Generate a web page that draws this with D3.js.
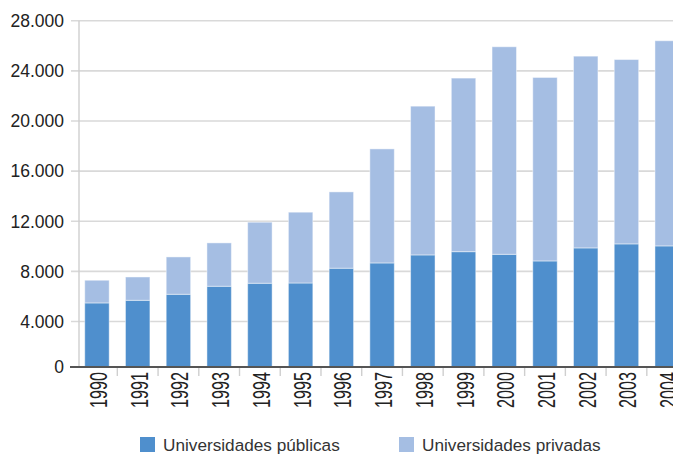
<!DOCTYPE html>
<html>
<head>
<meta charset="utf-8">
<script src="https://cdn.jsdelivr.net/npm/d3@7"></script>
<style>
  html, body { margin: 0; padding: 0; background: #fff; }
  svg { display: block; font-family: "Liberation Sans", Arial, Helvetica, sans-serif; }
</style>
</head>
<body>
<svg id="chart" width="673" height="454"></svg>
<script>
// Enrolment by type of university, 1990–2004
const years = ["1990","1991","1992","1993","1994","1995","1996","1997","1998","1999","2000","2001","2002","2003","2004"];
const publicas = [5480, 5690, 6170, 6810, 7050, 7070, 8250, 8670, 9310, 9570, 9360, 8830, 9870, 10190, 10030];
const privadas = [1810, 1860, 2980, 3460, 4870, 5650, 6090, 9100, 11870, 13850, 16560, 14640, 15300, 14710, 16370];
const yTicks = [0, 4000, 8000, 12000, 16000, 20000, 24000, 28000];
const seriesNames = ["Universidades públicas", "Universidades privadas"];
const colors = ["#4f8fcd", "#a5bee3"];

const W = 673, H = 454;
const axisX = 79;       // vertical axis position
const baseY = 367;      // horizontal axis line
const svg = d3.select("#chart");

const rows = years.map((y, i) => ({ year: y, publicas: publicas[i], privadas: privadas[i] }));
const stack = d3.stack().keys(["publicas", "privadas"])(rows);

const x = d3.scaleBand()
  .domain(years)
  .range([76.6, 76.6 + 40.73 * years.length])
  .paddingInner(0.4)
  .paddingOuter(0.2);

const y = d3.scaleLinear().domain([0, 28000]).range([371.6, 20.7]);

const fmt = v => d3.format(",")(v).replace(/,/g, ".");

// gridlines with short ticks left of the axis
svg.append("g")
  .selectAll("line")
  .data(yTicks.filter(d => d > 0))
  .join("line")
  .attr("x1", axisX - 8)
  .attr("x2", W)
  .attr("y1", d => y(d))
  .attr("y2", d => y(d))
  .attr("stroke", "#d9d9d9")
  .attr("stroke-width", 1.6);

// vertical axis line
svg.append("line")
  .attr("x1", axisX).attr("x2", axisX)
  .attr("y1", y(28000)).attr("y2", baseY)
  .attr("stroke", "#cfcfcf")
  .attr("stroke-width", 1.4);

// y tick labels
svg.append("g")
  .selectAll("text")
  .data(yTicks)
  .join("text")
  .attr("x", 64)
  .attr("y", d => d === 0 ? baseY : y(d))
  .attr("dy", "0.36em")
  .attr("text-anchor", "end")
  .attr("font-size", 17.5)
  .attr("fill", "#222")
  .text(fmt);

// stacked bars, clipped at the axis line
svg.append("clipPath").attr("id", "plotClip")
  .append("rect").attr("x", 0).attr("y", 0).attr("width", W).attr("height", baseY);

const bars = svg.append("g").attr("clip-path", "url(#plotClip)");
bars.selectAll("g")
  .data(stack)
  .join("g")
  .attr("fill", (d, i) => colors[i])
  .selectAll("rect")
  .data(d => d)
  .join("rect")
  .attr("x", d => x(d.data.year))
  .attr("width", x.bandwidth())
  .attr("y", d => y(d[1]))
  .attr("height", d => y(d[0]) - y(d[1]))
  .attr("stroke", "rgba(255,255,255,0.45)")
  .attr("stroke-width", 1);

// category ticks between bars
const step = x.step();
svg.append("g")
  .selectAll("line")
  .data(years.slice(1))
  .join("line")
  .attr("x1", d => x(d) - x.paddingOuter() * step)
  .attr("x2", d => x(d) - x.paddingOuter() * step)
  .attr("y1", baseY)
  .attr("y2", baseY + 9)
  .attr("stroke", "#cfcfcf")
  .attr("stroke-width", 1.4);

// horizontal axis line
svg.append("line")
  .attr("x1", axisX - 9).attr("x2", W)
  .attr("y1", baseY).attr("y2", baseY)
  .attr("stroke", "#555")
  .attr("stroke-width", 1.8);

// rotated year labels
svg.append("g")
  .selectAll("text")
  .data(years)
  .join("text")
  .attr("transform", d => `translate(${x(d) + x.bandwidth() / 2 + 10},${baseY + 5}) rotate(-90)`)
  .attr("text-anchor", "end")
  .attr("font-size", 23)
  .attr("textLength", 36)
  .attr("lengthAdjust", "spacingAndGlyphs")
  .attr("fill", "#222")
  .text(d => d);

// legend
const legendX = [140, 399];
const legend = svg.append("g")
  .selectAll("g")
  .data(seriesNames)
  .join("g")
  .attr("transform", (d, i) => `translate(${legendX[i]},437)`);
legend.append("rect")
  .attr("width", 15).attr("height", 15)
  .attr("fill", (d, i) => colors[i]);
legend.append("text")
  .attr("x", 23)
  .attr("y", 13.7)
  .attr("font-size", 17.2)
  .attr("fill", "#333")
  .text(d => d);
</script>
</body>
</html>
